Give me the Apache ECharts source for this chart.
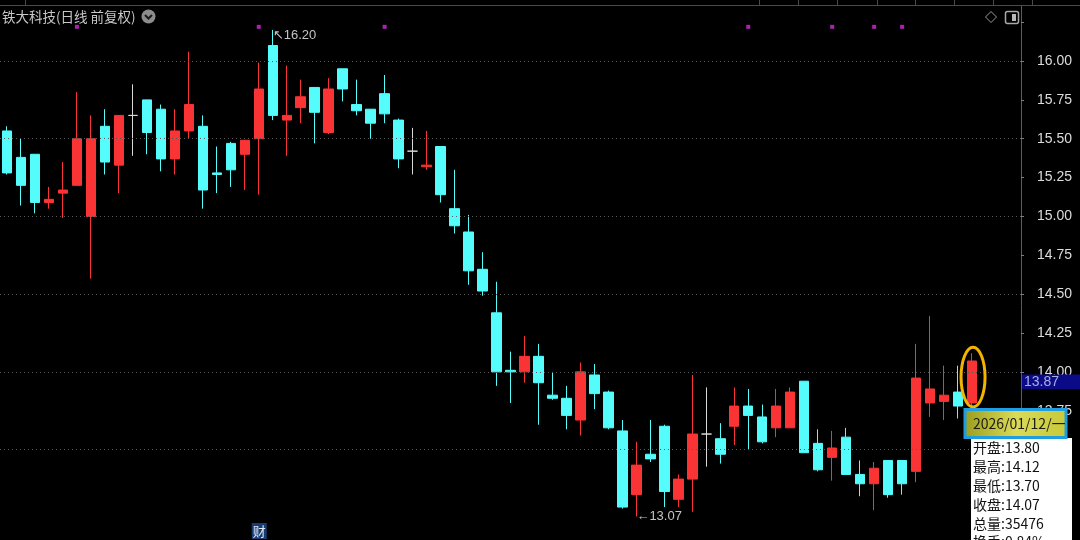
<!DOCTYPE html>
<html>
<head>
<meta charset="utf-8">
<script src="https://cdn.jsdelivr.net/npm/echarts@6/dist/echarts.min.js"></script>
<style>
  html, body { margin: 0; padding: 0; background: #000; overflow: hidden; width: 1080px; height: 540px; }
  /* taller than the window so the 0.25 grid can start at 12.50 below the visible edge */
  #chart { width: 1080px; height: 606px; }
</style>
</head>
<body>
<div id="chart"></div>
<script>
// daily candles, oldest -> newest
const opens = [15.55, 15.38, 15.40, 15.09, 15.15, 15.20, 15.00, 15.58, 15.33, 15.65,
  15.75, 15.69, 15.37, 15.55, 15.58, 15.28, 15.47, 15.40, 15.50, 16.10,
  15.62, 15.70, 15.83, 15.54, 15.95, 15.72, 15.69, 15.79, 15.62, 15.42,
  15.32, 15.45, 15.05, 14.90, 14.66, 14.38, 14.01, 14.00, 14.10, 13.85,
  13.83, 13.69, 13.98, 13.87, 13.62, 13.21, 13.47, 13.65, 13.18, 13.31,
  13.60, 13.57, 13.65, 13.78, 13.71, 13.64, 13.64, 13.94, 13.54, 13.45,
  13.58, 13.34, 13.28, 13.43, 13.43, 13.36, 13.80, 13.81, 13.87, 13.80]
const closes = [15.28, 15.20, 15.09, 15.11, 15.17, 15.50, 15.50, 15.35, 15.65, 15.65,
  15.54, 15.37, 15.55, 15.72, 15.17, 15.27, 15.30, 15.49, 15.82, 15.65,
  15.65, 15.77, 15.67, 15.82, 15.82, 15.68, 15.60, 15.66, 15.37, 15.42,
  15.33, 15.14, 14.94, 14.65, 14.52, 14.00, 14.00, 14.10, 13.93, 13.83,
  13.72, 14.00, 13.86, 13.64, 13.13, 13.40, 13.44, 13.23, 13.31, 13.60,
  13.60, 13.47, 13.78, 13.72, 13.55, 13.78, 13.87, 13.48, 13.37, 13.51,
  13.34, 13.28, 13.38, 13.21, 13.28, 13.96, 13.89, 13.85, 13.78, 14.07]
const lows = [15.27, 15.07, 15.02, 15.05, 14.99, 15.20, 14.60, 15.27, 15.15, 15.39,
  15.40, 15.29, 15.27, 15.50, 15.05, 15.15, 15.19, 15.17, 15.14, 15.62,
  15.39, 15.60, 15.47, 15.53, 15.74, 15.65, 15.50, 15.60, 15.31, 15.27,
  15.30, 15.09, 14.89, 14.56, 14.49, 13.91, 13.80, 13.93, 13.66, 13.82,
  13.63, 13.59, 13.76, 13.63, 13.12, 13.07, 13.42, 13.13, 13.13, 13.10,
  13.39, 13.41, 13.53, 13.50, 13.54, 13.58, 13.64, 13.48, 13.36, 13.30,
  13.34, 13.20, 13.11, 13.19, 13.21, 13.29, 13.71, 13.69, 13.70, 13.70]
const highs = [15.58, 15.50, 15.40, 15.19, 15.35, 15.80, 15.65, 15.69, 15.65, 15.85,
  15.75, 15.72, 15.69, 16.06, 15.65, 15.45, 15.48, 15.49, 15.99, 16.20,
  15.97, 15.88, 15.83, 15.89, 15.95, 15.88, 15.69, 15.91, 15.63, 15.57,
  15.55, 15.45, 15.30, 15.01, 14.77, 14.58, 14.13, 14.23, 14.18, 14.00,
  13.91, 14.06, 14.05, 13.88, 13.69, 13.55, 13.69, 13.66, 13.34, 13.98,
  13.90, 13.67, 13.90, 13.89, 13.79, 13.89, 13.90, 13.94, 13.63, 13.62,
  13.64, 13.43, 13.42, 13.43, 13.43, 14.18, 14.36, 14.04, 14.04, 14.12]
const emptySlots = 3            // blank days kept right of the last candle
const signalDays = [5, 18, 27, 53, 59, 62, 64]   // magenta markers along the top
const signalLevel = 16.22
const financeDay = 18           // "财" badge under this day
const gridLevels = [16, 15.5, 15, 14.5, 14, 13.5]
const topLabel = 16             // highest price label printed on the axis
const markPrice = 13.87
const stockTitle = '铁大科技(日线 前复权)'
const lastDate = '2026/01/12/一'
const lastVolume = 35476
const lastTurnover = '0.84%'

const UP = '#fa3434'
const DOWN = '#54fcfc'
const DOJI = '#d8d8d8'
const NUM_FONT = 'Liberation Sans'
const CJK_FONT = '"Noto Sans CJK SC"'

const days = opens.map((_, i) => 'D' + (i + 1))
for (let k = 0; k < emptySlots; k++) days.push('')

const candles = opens.map((o, i) => {
  const v = [o, closes[i], lows[i], highs[i]]
  return o === closes[i] ? { value: v, itemStyle: { color: DOJI, borderColor: DOJI } } : v
})

const chart = echarts.init(document.getElementById('chart'))

const option = {
  backgroundColor: '#000',
  animation: false,
  grid: { left: 0, right: 59, top: 6, bottom: 1 },
  xAxis: {
    type: 'category',
    data: days,
    boundaryGap: true,
    axisLine: { show: false },
    axisTick: { show: false },
    axisLabel: { show: false },
    splitLine: { show: false }
  },
  yAxis: {
    type: 'value',
    position: 'right',
    min: 12.5,
    max: 16.354,
    interval: 0.25,
    axisLine: { show: true, lineStyle: { color: '#5c5c5c' } },
    axisTick: { show: true, length: 3, lineStyle: { color: '#808080' } },
    axisLabel: {
      color: '#dcdcdc', fontSize: 14, fontFamily: NUM_FONT, margin: 16,
      showMinLabel: false, showMaxLabel: false,
      formatter: v => (v > topLabel ? '' : v.toFixed(2))
    },
    splitLine: { show: false }
  },
  series: [
    {
      type: 'candlestick',
      data: candles,
      barWidth: '71%',
      itemStyle: {
        color: UP, color0: DOWN,
        borderColor: UP, borderColor0: DOWN, borderColorDoji: DOJI,
        borderWidth: 1
      },
      markLine: {
        silent: true,
        symbol: 'none',
        label: { show: false },
        lineStyle: { color: '#5a5a5a', type: [1, 3], width: 1 },
        data: gridLevels.map(v => ({ yAxis: v }))
      },
      markPoint: {
        silent: true,
        symbol: 'circle',
        symbolSize: 0,
        label: {
          show: true, position: 'right', distance: 0,
          color: '#c4c4c4', fontSize: 13, fontFamily: NUM_FONT
        },
        data: [
          { type: 'max', valueDim: 'highest', label: { offset: [0, 5], formatter: p => '\u2196' + Number(p.value).toFixed(2) } },
          { type: 'min', valueDim: 'lowest', label: { formatter: p => '\u2190' + Number(p.value).toFixed(2) } }
        ]
      }
    },
    {
      type: 'scatter',
      silent: true,
      symbol: 'rect',
      symbolSize: 4,
      itemStyle: { color: '#d82ad8' },
      data: signalDays.map(i => [i, signalLevel])
    }
  ]
}

chart.setOption(option)

// overlays placed from the axes
const px = (i, v) => chart.convertToPixel({ xAxisIndex: 0, yAxisIndex: 0 }, [i, v])
const last = opens.length - 1
const [lx, hiY] = px(last, highs[last])
const bodyBottom = px(last, Math.min(opens[last], closes[last]))[1]
const ellTop = hiY - 6, ellBot = bodyBottom + 4
const finX = px(financeDay, 0)[0]
const markY = px(last, markPrice)[1]

const headerSeps = [25, 759, 798, 837, 877, 915, 954, 993, 1032]
const tipLines = [
  '开盘:' + opens[last].toFixed(2),
  '最高:' + highs[last].toFixed(2),
  '最低:' + lows[last].toFixed(2),
  '收盘:' + closes[last].toFixed(2),
  '总量:' + lastVolume,
  '换手:' + lastTurnover
]

const graphics = [
  { type: 'line', z: 100, shape: { x1: 0, y1: 5.5, x2: 1080, y2: 5.5 }, style: { stroke: '#4a4a4a', lineWidth: 1 } },
  ...headerSeps.map(x => ({ type: 'line', z: 100, shape: { x1: x + 0.5, y1: 0, x2: x + 0.5, y2: 5 }, style: { stroke: '#4a4a4a', lineWidth: 1 } })),
  { type: 'text', z: 100, x: 2, y: 17, style: { text: stockTitle, fill: '#c8c8c8', font: '13.5px ' + CJK_FONT, align: 'left', verticalAlign: 'middle' } },
  { type: 'circle', z: 100, shape: { cx: 148.5, cy: 16.5, r: 7 }, style: { fill: '#8c8c8c' } },
  { type: 'polyline', z: 101, shape: { points: [[145, 15], [148.5, 18.5], [152, 15]] }, style: { stroke: '#1a1a1a', lineWidth: 2, fill: null } },
  { type: 'polygon', z: 100, shape: { points: [[991, 11.5], [996.5, 17], [991, 22.5], [985.5, 17]] }, style: { stroke: '#9a9a9a', fill: null, lineWidth: 1 } },
  { type: 'rect', z: 100, shape: { x: 1005.5, y: 11.5, width: 13, height: 12, r: 2 }, style: { stroke: '#a8a8a8', fill: null, lineWidth: 1.5 } },
  { type: 'rect', z: 100, shape: { x: 1012, y: 14, width: 4, height: 7 }, style: { fill: '#b8b8b8' } },
  // current price tag on the axis
  { type: 'rect', z: 100, shape: { x: 1022, y: markY - 17.5, width: 60, height: 14.5 }, style: { fill: '#0b0b88' } },
  { type: 'text', z: 101, x: 1024, y: markY - 10, style: { text: markPrice.toFixed(2), fill: '#a8aee0', font: '14px ' + NUM_FONT, verticalAlign: 'middle' } },
  // orange ring around the selected day
  { type: 'ellipse', z: 100, shape: { cx: lx + 1, cy: (ellTop + ellBot) / 2, rx: 12, ry: (ellBot - ellTop) / 2 }, style: { stroke: '#f2b400', lineWidth: 3, fill: null } },
  // info box for the selected day
  { type: 'rect', z: 100, shape: { x: 971, y: 438, width: 101, height: 110 }, style: { fill: '#ffffff' } },
  { type: 'rect', z: 101, shape: { x: 965, y: 409.5, width: 101, height: 28 },
    style: {
      stroke: '#1e9de0', lineWidth: 3,
      fill: new echarts.graphic.LinearGradient(0, 0, 1, 0, [
        { offset: 0, color: '#9c9c1c' }, { offset: 0.5, color: '#dada58' }, { offset: 1, color: '#c8c83a' }
      ])
    } },
  { type: 'text', z: 102, x: 973, y: 424, style: { text: lastDate, fill: '#1a1a1a', font: '14px ' + CJK_FONT, verticalAlign: 'middle' } },
  ...tipLines.map((t, k) => ({ type: 'text', z: 102, x: 973, y: 448 + k * 18.8, style: { text: t, fill: '#111', font: '14px ' + CJK_FONT, verticalAlign: 'middle' } })),
  // finance report badge
  { type: 'rect', z: 100, shape: { x: finX - 7, y: 523, width: 15, height: 16 }, style: { fill: '#173c72' } },
  { type: 'text', z: 101, x: finX + 0.5, y: 531, style: { text: '财', fill: '#e0e8f4', font: '13px ' + CJK_FONT, align: 'center', verticalAlign: 'middle' } }
]

chart.setOption({ graphic: graphics })
</script>
</body>
</html>
